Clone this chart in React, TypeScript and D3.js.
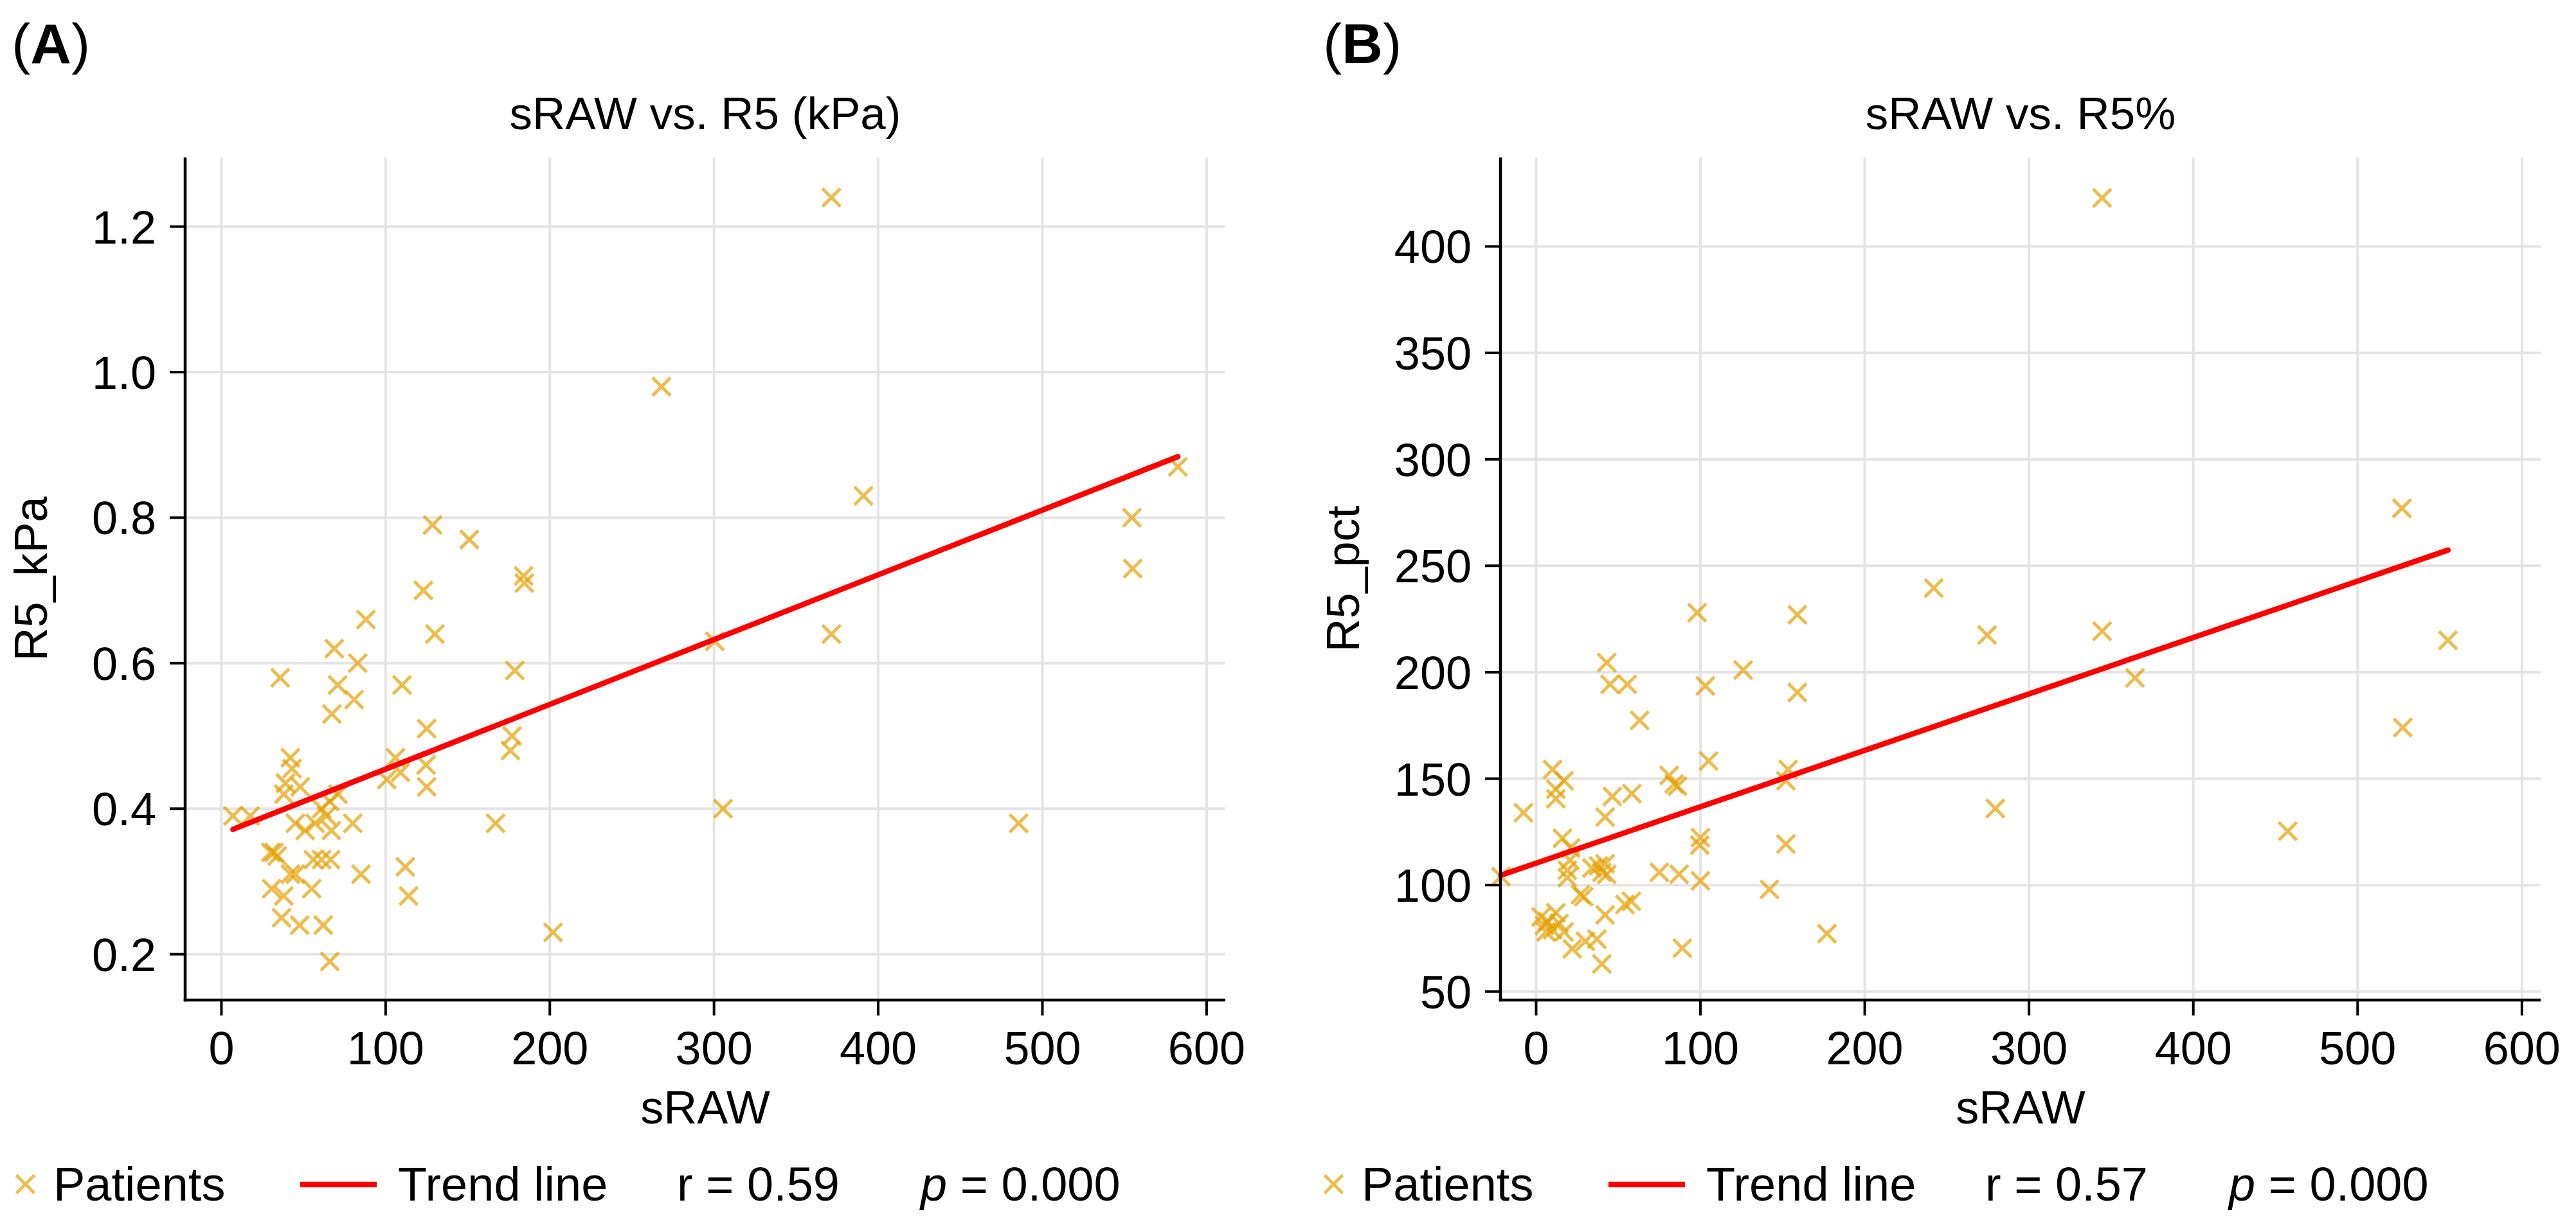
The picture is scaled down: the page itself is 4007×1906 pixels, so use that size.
import React from "react";
import * as d3 from "d3";

// ---------- data ----------
const sRawA = [
  128.6, 151, 184, 184.5, 123, 88, 130, 68.7, 83, 35.8, 178.7, 70.8, 110, 80.8, 67.3, 125, 177, 176, 106, 124.6, 109, 100.7, 125,
  42, 43, 39, 48, 38, 61, 64, 66, 71, 7, 17.5, 45, 51, 57, 67, 80, 167,
  30, 32, 34, 56, 61, 66.5, 42, 45, 85, 112, 114, 30.6, 38, 55, 36.6, 47.6, 62, 66, 202,
  371.5, 268, 391, 554.5, 555, 582.5, 371.5, 300.5, 305.5, 485.5,
];
const r5kPa = [
  0.79, 0.77, 0.72, 0.71, 0.70, 0.66, 0.64, 0.62, 0.60, 0.58, 0.59, 0.57, 0.57, 0.55, 0.53, 0.51, 0.50, 0.48, 0.47, 0.46, 0.45, 0.44, 0.43,
  0.47, 0.455, 0.435, 0.43, 0.42, 0.40, 0.39, 0.41, 0.42, 0.39, 0.39, 0.38, 0.37, 0.38, 0.37, 0.38, 0.38,
  0.34, 0.34, 0.335, 0.33, 0.33, 0.33, 0.31, 0.31, 0.31, 0.32, 0.28, 0.29, 0.28, 0.29, 0.25, 0.24, 0.24, 0.19, 0.23,
  1.24, 0.98, 0.83, 0.80, 0.73, 0.87, 0.64, 0.63, 0.40, 0.38,
];

const sRawB = [
  344.5, 527, 242, 274.5, 344.5, 364.5, 555, 527.5, 279.5, 457.5, 98, 159, 43, 126, 159,
  45, 55.5, 103, 63, 105, 10, 17, 12, 12, -7.7, 46.4, 58.3, 42, 81, 84, 86, 153.4, 152,
  16, 100, 99.6, 152, 21, 20.6, 19, 19, 34, 38, 40, 42, 43, 75, 87, 100, 142, -21.4,
  27, 29, 58, 54, 42, 177, 89, 22, 30, 37, 40, 3, 5, 7, 10, 12, 14, 17, 6,
];
const r5pct = [
  422.8, 277, 239.5, 217.5, 219.3, 197.3, 215, 174, 136, 125.3, 228, 227, 204.5, 201, 190.5,
  194.3, 194.3, 193.6, 177.4, 158.3, 154.3, 149, 145, 140.6, 134, 141.6, 143, 132, 151.5, 147.5, 146.5, 154.3, 149,
  122, 122.3, 118.8, 119.3, 117.5, 111.7, 107, 103.5, 108, 109, 106, 110, 105, 106, 105.1, 102, 98, 104,
  95.5, 94.5, 92.4, 90.9, 86, 77.2, 70.4, 70.1, 73.6, 74.6, 63, 85, 81, 83, 79, 87, 82, 78, 78,
];

const xTicks = [0, 100, 200, 300, 400, 500, 600];
const yTicksA = [0.2, 0.4, 0.6, 0.8, 1.0, 1.2];
const yTicksB = [50, 100, 150, 200, 250, 300, 350, 400];

// trend lines: [slope, intercept]
const trendA = [0.00089, 0.3654];
const trendB = [0.265, 110.3];

const titles = ["sRAW vs. R5 (kPa)", "sRAW vs. R5%"];
const yLabels = ["R5_kPa", "R5_pct"];
const letters = ["A", "B"];
const rValues = ["0.59", "0.57"];
const pValues = ["0.000", "0.000"];

// ---------- style ----------
const FONT = "'Liberation Sans', Arial, Helvetica, sans-serif";
const MARKER = "#E69F00";
const W = 4007;
const H = 1906;

type PanelProps = {
  left: number;
  right: number;
  top: number;
  bottom: number;
  xDomain: [number, number];
  yDomain: [number, number];
  xs: number[];
  ys: number[];
  yTicks: number[];
  fmt: (v: number) => string;
  trend: number[];
  title: string;
  ylabel: string;
  ylabelX: number;
  letter: string;
  letterX: number;
  legendX: number;
  r: string;
  p: string;
};

function Cross({ x, y }: { x: number; y: number }) {
  const h = 14;
  return (
    <path
      d={`M${x - h},${y - h}L${x + h},${y + h}M${x - h},${y + h}L${x + h},${y - h}`}
      stroke={MARKER}
      strokeOpacity={0.7}
      strokeWidth={5}
      fill="none"
    />
  );
}

function Panel(p: PanelProps) {
  const x = d3.scaleLinear().domain(p.xDomain).range([p.left, p.right]);
  const y = d3.scaleLinear().domain(p.yDomain).range([p.bottom, p.top]);
  const ext = d3.extent(p.xs) as [number, number];
  const lineGen = d3
    .line<number>()
    .x((d) => x(d))
    .y((d) => y(p.trend[0] * d + p.trend[1]));
  const cx = (p.left + p.right) / 2;
  const cy = (p.top + p.bottom) / 2;
  const tick = 24;
  const lg = p.legendX;
  const lgY = 1868;
  return (
    <g fontFamily={FONT}>
      <text x={p.letterX} y={98} fontSize={88} fill="#000">
        (<tspan fontWeight="bold">{p.letter}</tspan>)
      </text>
      <text x={cx} y={201} fontSize={71} textAnchor="middle" fill="#000">
        {p.title}
      </text>
      <g stroke="#e4e4e4" strokeWidth={4}>
        {xTicks.map((t) => (
          <line key={"gx" + t} x1={x(t)} x2={x(t)} y1={p.top} y2={p.bottom} />
        ))}
        {p.yTicks.map((t) => (
          <line key={"gy" + t} x1={p.left} x2={p.right} y1={y(t)} y2={y(t)} />
        ))}
      </g>
      {p.xs.map((v, i) => (
        <Cross key={i} x={x(v)} y={y(p.ys[i])} />
      ))}
      <path d={lineGen(ext) || ""} stroke="#ff0000" strokeWidth={8.5} fill="none" strokeLinecap="round" />
      <line x1={p.left} x2={p.left} y1={p.top} y2={p.bottom + 2.25} stroke="#000" strokeWidth={4.5} />
      <line x1={p.left - 2.25} x2={p.right} y1={p.bottom} y2={p.bottom} stroke="#000" strokeWidth={4.5} />
      {xTicks.map((t) => (
        <g key={"xt" + t}>
          <line x1={x(t)} x2={x(t)} y1={p.bottom} y2={p.bottom + tick} stroke="#000" strokeWidth={4} />
          <text x={x(t)} y={p.bottom + tick + 76} fontSize={72} textAnchor="middle" fill="#000">
            {t}
          </text>
        </g>
      ))}
      {p.yTicks.map((t) => (
        <g key={"yt" + t}>
          <line x1={p.left - tick} x2={p.left} y1={y(t)} y2={y(t)} stroke="#000" strokeWidth={4} />
          <text x={p.left - tick - 21} y={y(t) + 26} fontSize={72} textAnchor="end" fill="#000">
            {p.fmt(t)}
          </text>
        </g>
      ))}
      <text x={cx} y={1748} fontSize={72} textAnchor="middle" fill="#000">
        sRAW
      </text>
      <text
        transform={`translate(${p.ylabelX},${cy}) rotate(-90)`}
        fontSize={72}
        textAnchor="middle"
        fill="#000"
      >
        {p.ylabel}
      </text>
      <Cross x={lg + 39.5} y={1842.5} />
      <text x={lg + 83} y={lgY} fontSize={74} fill="#000">
        Patients
      </text>
      <line x1={lg + 467} x2={lg + 586} y1={1843} y2={1843} stroke="#ff0000" strokeWidth={8.5} />
      <text x={lg + 619} y={lgY} fontSize={74} fill="#000">
        Trend line
      </text>
      <text x={lg + 1053} y={lgY} fontSize={74} fill="#000">
        {"r = " + p.r}
      </text>
      <text x={lg + 1432} y={lgY} fontSize={74} fill="#000">
        <tspan fontStyle="italic">p</tspan>
        {" = " + p.p}
      </text>
    </g>
  );
}

export default function App() {
  return (
    <div style={{ position: "fixed", left: 0, top: 0, background: "#fff" }}>
      <svg width={W} height={H} viewBox={`0 0 ${W} ${H}`} style={{ display: "block", background: "#fff" }}>
        <rect width={W} height={H} fill="#fff" />
        <Panel
          left={288}
          right={1906}
          top={245}
          bottom={1556}
          xDomain={[-22.1, 611.4]}
          yDomain={[0.137, 1.295]}
          xs={sRawA}
          ys={r5kPa}
          yTicks={yTicksA}
          fmt={(v) => v.toFixed(1)}
          trend={trendA}
          title={titles[0]}
          ylabel={yLabels[0]}
          ylabelX={73}
          letter={letters[0]}
          letterX={18}
          legendX={0}
          r={rValues[0]}
          p={pValues[0]}
        />
        <Panel
          left={2334}
          right={3952}
          top={245}
          bottom={1556}
          xDomain={[-21.7, 611.4]}
          yDomain={[46, 441.8]}
          xs={sRawB}
          ys={r5pct}
          yTicks={yTicksB}
          fmt={(v) => String(v)}
          trend={trendB}
          title={titles[1]}
          ylabel={yLabels[1]}
          ylabelX={2114}
          letter={letters[1]}
          letterX={2058}
          legendX={2035}
          r={rValues[1]}
          p={pValues[1]}
        />
      </svg>
    </div>
  );
}
